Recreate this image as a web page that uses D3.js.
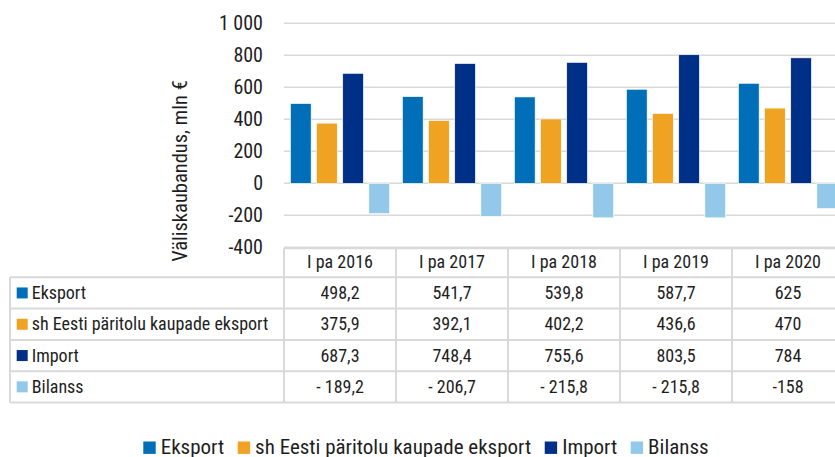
<!DOCTYPE html>
<html>
<head>
<meta charset="utf-8">
<script src="https://cdn.jsdelivr.net/npm/d3@7"></script>
<style>
  html, body { margin: 0; padding: 0; background: #fff; }
  svg { display: block; font-family: "Roboto Condensed", "Roboto", sans-serif; }
</style>
</head>
<body>
<div id="chart"></div>
<script>
// data
const periods = ["I pa 2016", "I pa 2017", "I pa 2018", "I pa 2019", "I pa 2020"];
const seriesNames = ["Eksport", "sh Eesti päritolu kaupade eksport", "Import", "Bilanss"];
const eksport = [498.2, 541.7, 539.8, 587.7, 625];
const eestiEksport = [375.9, 392.1, 402.2, 436.6, 470];
const importValues = [687.3, 748.4, 755.6, 803.5, 784];
const bilanss = [-189.2, -206.7, -215.8, -215.8, -158];
const yTicks = [-400, -200, 0, 200, 400, 600, 800, 1000];
const colors = ["#006fb7", "#f0a323", "#002f87", "#92c9e8"];

const seriesValues = [eksport, eestiEksport, importValues, bilanss];

const W = 835, H = 457;
const plotLeft = 284, colW = 112;
const tableTop = 248.3, headerH = 29, rowH = 31.3, tableLeft = 10;
const gridColor = "#d9d9d9", textColor = "#1e1e1e";

const svg = d3.select("#chart").append("svg")
  .attr("width", W).attr("height", H);

const y = d3.scaleLinear().domain([-400, 1000]).range([247.3, 23.3]);
const x0 = d3.scaleBand().domain(periods)
  .range([plotLeft, plotLeft + colW * periods.length]).padding(0);
const x1 = d3.scaleBand().domain(seriesNames)
  .range([6.5, colW - 6.5]).paddingInner(0.21).paddingOuter(0);

// grid lines
svg.append("g").selectAll("line")
  .data(yTicks)
  .join("line")
    .attr("x1", plotLeft).attr("x2", W)
    .attr("y1", d => y(d)).attr("y2", d => y(d))
    .attr("stroke", gridColor).attr("stroke-width", 1.5);

// y tick labels
const fmtTick = v => (v < 0 ? "-" : "") + d3.format(",")(Math.abs(v)).replace(/,/g, " ");
svg.append("g").selectAll("text")
  .data(yTicks)
  .join("text")
    .attr("x", 263).attr("y", d => y(d) + 7)
    .attr("text-anchor", "end")
    .style("font-size", "20px").style("fill", textColor)
    .text(fmtTick);

// axis title
svg.append("text")
  .attr("transform", "translate(187,171) rotate(-90)")
  .attr("text-anchor", "middle")
  .style("font-size", "20.5px").style("fill", textColor)
  .text("Väliskaubandus, mln €");

// bars
const barData = [];
periods.forEach((p, i) => {
  seriesNames.forEach((s, j) => {
    barData.push({ period: p, series: s, value: seriesValues[j][i], color: colors[j] });
  });
});

svg.append("g").selectAll("rect")
  .data(barData)
  .join("rect")
    .attr("x", d => x0(d.period) + x1(d.series))
    .attr("width", x1.bandwidth())
    .attr("y", d => y(Math.max(0, d.value)))
    .attr("height", d => Math.abs(y(d.value) - y(0)))
    .attr("fill", d => d.color)
    .attr("stroke", "#fff").attr("stroke-width", 0.6);

// data table
const table = svg.append("g");
const tableBottom = tableTop + headerH + rowH * seriesNames.length;
const rowY = i => tableTop + headerH + i * rowH;

// horizontal lines
table.append("line")
  .attr("x1", plotLeft).attr("x2", W + 20)
  .attr("y1", tableTop).attr("y2", tableTop)
  .attr("stroke", gridColor).attr("stroke-width", 2);
table.selectAll(".hline")
  .data(d3.range(seriesNames.length + 1))
  .join("line")
    .attr("class", "hline")
    .attr("x1", tableLeft).attr("x2", W + 20)
    .attr("y1", i => rowY(i)).attr("y2", i => rowY(i))
    .attr("stroke", gridColor).attr("stroke-width", 2);

// vertical lines
table.append("line")
  .attr("x1", tableLeft).attr("x2", tableLeft)
  .attr("y1", rowY(0)).attr("y2", tableBottom)
  .attr("stroke", gridColor).attr("stroke-width", 2);
table.selectAll(".vline")
  .data(periods.concat(["end"]))
  .join("line")
    .attr("class", "vline")
    .attr("x1", (d, i) => plotLeft + i * colW).attr("x2", (d, i) => plotLeft + i * colW)
    .attr("y1", tableTop).attr("y2", tableBottom)
    .attr("stroke", gridColor).attr("stroke-width", 2);

// header
table.selectAll(".head")
  .data(periods)
  .join("text")
    .attr("class", "head")
    .attr("x", d => x0(d) + x0.bandwidth() / 2)
    .attr("y", tableTop + 19.5)
    .attr("text-anchor", "middle")
    .style("font-size", "18px").style("fill", textColor)
    .text(d => d);

// row labels with colour keys
const rows = table.selectAll(".row")
  .data(seriesNames)
  .join("g")
    .attr("class", "row")
    .attr("transform", (d, i) => `translate(0,${rowY(i)})`);

rows.append("rect")
  .attr("x", 16.7).attr("y", rowH / 2 - 5.5)
  .attr("width", 11).attr("height", 11)
  .attr("fill", (d, i) => colors[i]);

rows.append("text")
  .attr("x", 31.7).attr("y", rowH / 2 + 6)
  .style("font-size", "18px").style("fill", textColor)
  .text(d => d);

const fmtCell = v => {
  if (Number.isInteger(v)) return String(v);
  const s = d3.format(".1f")(Math.abs(v)).replace(".", ",");
  return v < 0 ? "- " + s : s;
};

rows.each(function (name, j) {
  d3.select(this).selectAll(".val")
    .data(seriesValues[j])
    .join("text")
      .attr("class", "val")
      .attr("x", (d, i) => x0(periods[i]) + x0.bandwidth() / 2)
      .attr("y", rowH / 2 + 6)
      .attr("text-anchor", "middle")
      .style("font-size", "18px").style("fill", textColor)
      .text(fmtCell);
});

// bottom legend
const legend = svg.append("g");
let lx = 143.3;
seriesNames.forEach((name, i) => {
  legend.append("rect")
    .attr("x", lx).attr("y", 441.5)
    .attr("width", 12.4).attr("height", 12.4)
    .attr("fill", colors[i]);
  const t = legend.append("text")
    .attr("x", lx + 17.4).attr("y", 453.5)
    .style("font-size", "21px").style("fill", textColor)
    .text(name);
  lx += 17.4 + t.node().getComputedTextLength() + 13.5;
});
</script>
</body>
</html>
